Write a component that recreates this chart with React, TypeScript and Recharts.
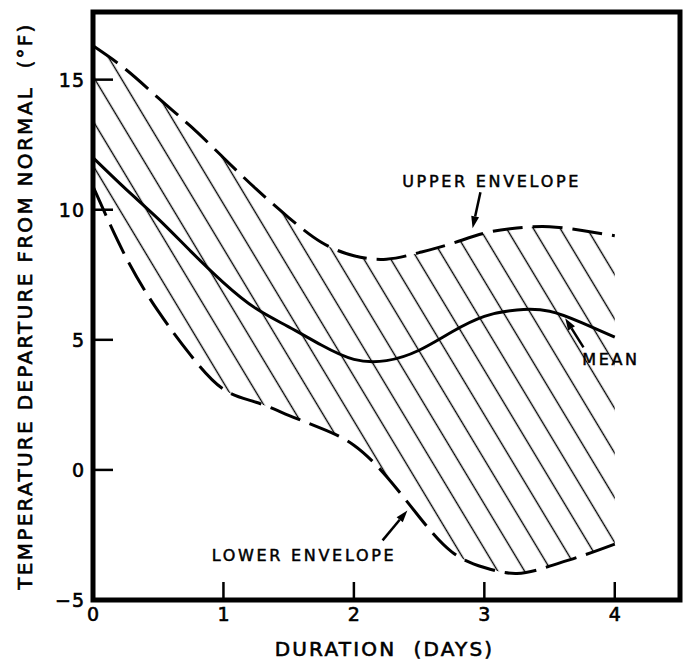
import React from 'react';
import {
  ComposedChart,
  Line,
  Area,
  XAxis,
  YAxis,
  ReferenceArea,
  ReferenceDot,
  ReferenceLine,
} from 'recharts';

// ---- data ----
const days = [0, 0.25, 0.5, 0.75, 1, 1.25, 1.5, 1.75, 2, 2.25, 2.5, 2.75, 3, 3.25, 3.5, 3.75, 4];
const upperEnvelope = [16.3, 15.4, 14.3, 13.2, 12.0, 10.8, 9.7, 8.75, 8.23, 8.1, 8.35, 8.7, 9.1, 9.3, 9.35, 9.2, 9.0];
const meanDeparture = [12.0, 10.8, 9.65, 8.4, 7.2, 6.2, 5.5, 4.8, 4.25, 4.2, 4.6, 5.3, 5.9, 6.15, 6.1, 5.65, 5.1];
const lowerEnvelope = [10.9, 8.2, 6.1, 4.4, 3.1, 2.6, 2.1, 1.6, 0.95, -0.25, -1.8, -3.15, -3.75, -3.98, -3.7, -3.3, -2.85];

const xTicks = [0, 1, 2, 3, 4];
const yTicks = [-5, 0, 5, 10, 15];
const xDomain = [0, 4.5];
const yDomain = [-5, 17.6];

const xTitle = 'DURATION  (DAYS)';
const yTitle = 'TEMPERATURE DEPARTURE FROM NORMAL  (°F)';

// annotation labels: [text, x, y]
const annotationText: [string, number, number][] = [
  ['UPPER ENVELOPE', 2.37, 11.1],
  ['MEAN', 3.75, 4.25],
  ['LOWER ENVELOPE', 0.91, -3.29],
];
// annotation arrows: [tailX, tailY, tipX, tipY]
const annotationArrows: [number, number, number, number][] = [
  [2.97, 10.67, 2.91, 9.29],
  [3.76, 4.71, 3.62, 5.83],
  [2.22, -2.71, 2.41, -1.56],
];

const FONT = "'DejaVu Sans', 'Noto Sans', sans-serif";
const TXT = { fill: '#000', stroke: '#000', strokeWidth: 0.6 };

const fmt = (v: number) => (v < 0 ? '\u2212' + Math.abs(v) : String(v));

const BottomTick = (p: any) => {
  const { x, y, payload } = p;
  return (
    <g>
      {payload.value > 0 && (
        <line x1={x} y1={y} x2={x} y2={y - 18} stroke="#000" strokeWidth={2.5} />
      )}
      <text x={x} y={y + 21} textAnchor="middle" fontFamily={FONT} fontSize={19} {...TXT}>
        {fmt(payload.value)}
      </text>
    </g>
  );
};

const LeftTick = (p: any) => {
  const { x, y, payload } = p;
  return (
    <g>
      {payload.value > -5 && (
        <line x1={x} y1={y} x2={x + 20} y2={y} stroke="#000" strokeWidth={2.5} />
      )}
      <text x={x - 8} y={y + 7} textAnchor="end" fontFamily={FONT} fontSize={19} letterSpacing={1} {...TXT}>
        {fmt(payload.value)}
      </text>
    </g>
  );
};

const TopTick = (p: any) => {
  const { x, y, payload } = p;
  if (payload.value <= 0) return <g />;
  return <line x1={x} y1={y} x2={x} y2={y + 20} stroke="#000" strokeWidth={2.5} />;
};

const RightTick = (p: any) => {
  const { x, y, payload } = p;
  if (payload.value <= -5) return <g />;
  return <line x1={x} y1={y} x2={x - 20} y2={y} stroke="#000" strokeWidth={2.5} />;
};

const XTitle = (p: any) => {
  const vb = p.viewBox || { x: 93, y: 600, width: 587, height: 60 };
  return (
    <text
      x={vb.x + vb.width / 2 - 2}
      y={vb.y + 56}
      textAnchor="middle"
      fontFamily={FONT}
      fontSize={20}
      letterSpacing={2.2}
      style={{ whiteSpace: 'pre' }}
      {...TXT}
    >
      {xTitle}
    </text>
  );
};

const YTitle = (p: any) => {
  const vb = p.viewBox || { x: 0, y: 12, width: 93, height: 588 };
  const cx = vb.x + 25;
  const cy = vb.y + vb.height / 2;
  return (
    <text
      x={cx}
      y={cy}
      transform={`rotate(-90 ${cx} ${cy})`}
      textAnchor="middle"
      dominantBaseline="central"
      fontFamily={FONT}
      fontSize={20}
      letterSpacing={2.3}
      style={{ whiteSpace: 'pre' }}
      {...TXT}
    >
      {yTitle}
    </text>
  );
};

const makeText = (txt: string) => (p: any) => (
  <text
    x={p.cx}
    y={p.cy}
    dominantBaseline="central"
    fontFamily={FONT}
    fontSize={16}
    letterSpacing={2.7}
    style={{ whiteSpace: 'pre' }}
    {...TXT}
    strokeWidth={0.5}
  >
    {txt}
  </text>
);

const arrowShape = (p: any) => {
  const { x1, y1, x2, y2 } = p;
  const a = Math.atan2(y2 - y1, x2 - x1);
  const L = 12;
  const W = 4;
  const bx = x2 - L * Math.cos(a);
  const by = y2 - L * Math.sin(a);
  const px = -Math.sin(a) * W;
  const py = Math.cos(a) * W;
  return (
    <g>
      <line x1={x1} y1={y1} x2={bx} y2={by} stroke="#000" strokeWidth={2.5} />
      <polygon points={`${x2},${y2} ${bx + px},${by + py} ${bx - px},${by - py}`} fill="#000" />
    </g>
  );
};

const CURVE = 'natural';

export default function App() {
  const data = days.map((d, i) => ({
    day: d,
    upper: upperEnvelope[i],
    mean: meanDeparture[i],
    lower: lowerEnvelope[i],
    band: [lowerEnvelope[i], upperEnvelope[i]],
  }));

  return (
    <div style={{ position: 'absolute', left: 0, top: 0, width: 687, height: 660, background: '#fff' }}>
      <ComposedChart width={687} height={660} data={data} margin={{ top: 12, right: 7, bottom: 0, left: 0 }}>
        <defs>
          <pattern id="hatch" patternUnits="userSpaceOnUse" width={23} height={23} patternTransform="rotate(59)">
            <line x1={-2} y1={5.5} x2={25} y2={5.5} stroke="#000" strokeWidth={1.4} />
          </pattern>
        </defs>
        <XAxis
          dataKey="day"
          type="number"
          domain={xDomain}
          ticks={xTicks}
          interval={0}
          height={60}
          axisLine={false}
          tickLine={false}
          tickSize={0}
          tickMargin={0}
          tick={BottomTick}
          label={XTitle}
        />
        <XAxis
          xAxisId="top"
          orientation="top"
          type="number"
          domain={xDomain}
          ticks={xTicks}
          interval={0}
          height={0}
          axisLine={false}
          tickLine={false}
          tickSize={0}
          tickMargin={0}
          tick={TopTick}
        />
        <YAxis
          type="number"
          domain={yDomain}
          ticks={yTicks}
          interval={0}
          width={93}
          axisLine={false}
          tickLine={false}
          tickSize={0}
          tickMargin={0}
          tick={LeftTick}
          label={YTitle}
        />
        <YAxis
          yAxisId="right"
          orientation="right"
          type="number"
          domain={yDomain}
          ticks={yTicks}
          interval={0}
          width={0}
          axisLine={false}
          tickLine={false}
          tickSize={0}
          tickMargin={0}
          tick={RightTick}
        />
        <Area
          dataKey="band"
          type={CURVE}
          fill="url(#hatch)"
          fillOpacity={1}
          stroke="none"
          isAnimationActive={false}
        />
        <Line
          dataKey="upper"
          type={CURVE}
          stroke="#000"
          strokeWidth={3}
          strokeDasharray="30 10"
          dot={false}
          isAnimationActive={false}
        />
        <Line
          dataKey="lower"
          type={CURVE}
          stroke="#000"
          strokeWidth={3}
          strokeDasharray="32 10"
          dot={false}
          isAnimationActive={false}
        />
        <Line
          dataKey="mean"
          type={CURVE}
          stroke="#000"
          strokeWidth={3}
          dot={false}
          isAnimationActive={false}
        />
        <ReferenceArea
          x1={xDomain[0]}
          x2={xDomain[1]}
          y1={yDomain[0]}
          y2={yDomain[1]}
          fill="none"
          fillOpacity={0}
          stroke="#000"
          strokeWidth={5}
          ifOverflow="visible"
        />
        {annotationText.map(([t, x, y]) => (
          <ReferenceDot key={t} x={x} y={y} r={0} ifOverflow="visible" shape={makeText(t)} />
        ))}
        {annotationArrows.map(([x1, y1, x2, y2], i) => (
          <ReferenceLine
            key={'arr' + i}
            segment={[
              { x: x1, y: y1 },
              { x: x2, y: y2 },
            ]}
            ifOverflow="visible"
            shape={arrowShape}
          />
        ))}
      </ComposedChart>
    </div>
  );
}
